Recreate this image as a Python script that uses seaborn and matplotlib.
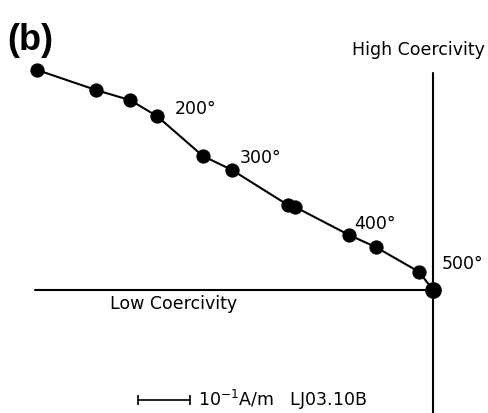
import matplotlib
matplotlib.use("Agg")
import matplotlib.pyplot as plt
import pandas as pd
import seaborn as sns

# demagnetisation path, units of 10^-1 A/m (origin = end point)
x_comp = [-9.43, -8.02, -7.21, -6.57, -5.48, -4.79, -3.45, -3.29, -2.00, -1.36, -0.33, 0.0]
y_comp = [5.24, 4.76, 4.52, 4.14, 3.19, 2.86, 2.02, 1.98, 1.31, 1.02, 0.43, 0.0]
step_labels = ["", "", "", "200°", "", "300°", "", "", "400°", "", "", "500°"]
label_offsets = [None, None, None, (12.5, 1.5), None, (6, 5), None, None, (4, 4.5), None, None, (6.5, 15)]

df = pd.DataFrame({"x": x_comp, "y": y_comp, "step": range(len(x_comp))})

sns.set_style("white")
plt.rcParams["font.family"] = ["DejaVu Sans"]
plt.rcParams["text.color"] = "black"

fig = plt.figure(figsize=(4.89, 4.13), dpi=100)
ax = fig.add_axes([0, 0, 1, 1])

# axes of the diagram
ax.plot([-9.48, 0], [0, 0], color="black", lw=1.5)
ax.plot([0, 0], [5.17, -2.95], color="black", lw=1.5)

sns.lineplot(data=df, x="x", y="y", sort=False, color="black", lw=1.5,
             marker="o", markersize=9.5, markeredgecolor="black", ax=ax)
ax.plot(x_comp[-1], y_comp[-1], "o", color="black", markersize=11)

for xi, yi, lab, off in zip(x_comp, y_comp, step_labels, label_offsets):
    if lab:
        ax.annotate(lab, (xi, yi), xytext=off, textcoords="offset points",
                    fontsize=12.5, ha="left", va="baseline")

ax.text(0.014, 0.945, "(b)", transform=ax.transAxes, fontsize=26,
        fontweight="bold", family="Liberation Sans", ha="left", va="top")
ax.text(1.24, 5.6, "High Coercivity", fontsize=12.5, ha="right", va="baseline")
ax.text(-7.69, -0.452, "Low Coercivity", fontsize=12.5, ha="left", va="baseline")

# scale bar
ax.plot([-7.02, -5.78], [-2.62, -2.62], color="black", lw=1.2,
        marker="|", markersize=7, markeredgewidth=1.2)
ax.text(-5.6, -2.62, "10$^{-1}$A/m   LJ03.10B", fontsize=12.5, ha="left", va="center")

ax.set_xlim(-10.31, 1.333)
ax.set_ylim(-2.929, 6.905)
ax.set_axis_off()

fig.savefig("out.png", dpi=100)
